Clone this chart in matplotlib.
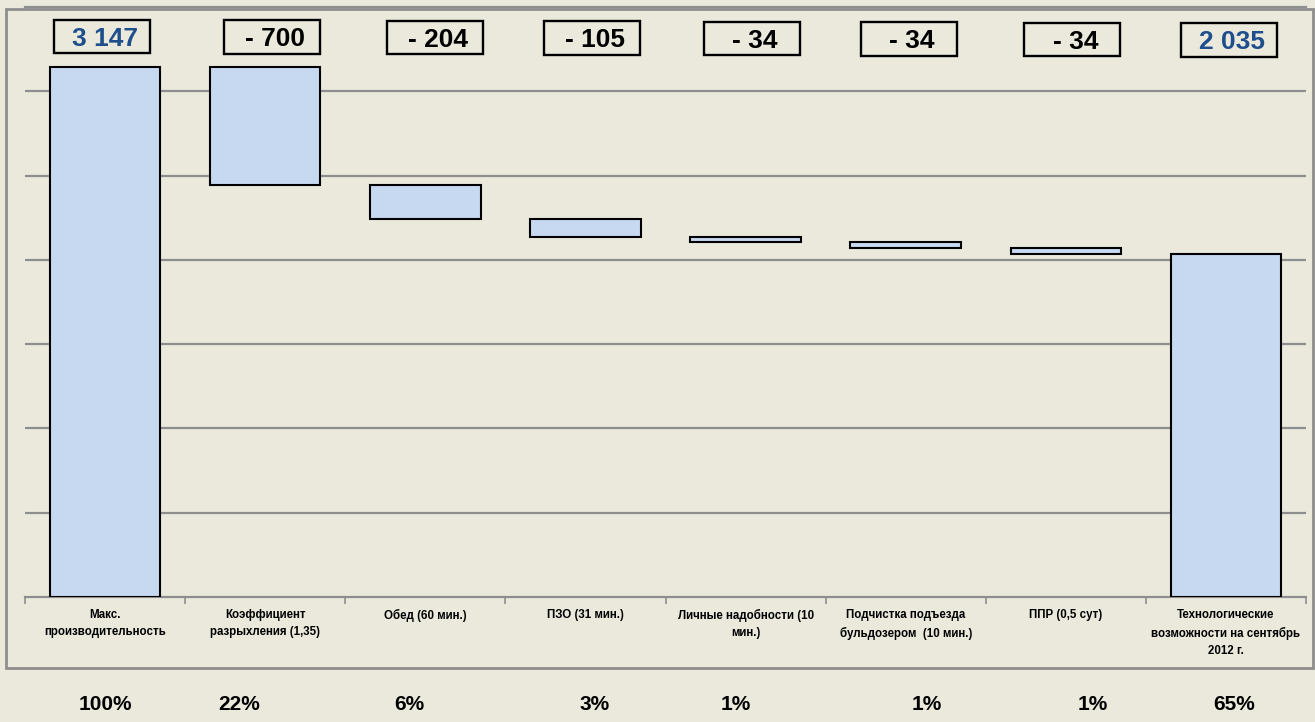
import matplotlib.pyplot as plt
from matplotlib.patches import Rectangle
import numpy as np

categories = ["Макс.\nпроизводительность", "Коэффициент\nразрыхления (1,35)", "Обед (60 мин.)",
              "ПЗО (31 мин.)", "Личные надобности (10\nмин.)", "Подчистка подъезда\nбульдозером  (10 мин.)",
              "ППР (0,5 сут)", "Технологические\nвозможности на сентябрь\n2012 г."]
values = [3147, -700, -204, -105, -34, -34, -34, 2035]
value_labels = ["3 147", "- 700", "- 204", "- 105", "- 34", "- 34", "- 34", "2 035"]
percents = ["100%", "22%", "6%", "3%", "1%", "1%", "1%", "65%"]
is_total = [True, False, False, False, False, False, False, True]

bg = "#EAE9DC"
bar_fill = "#C6D9F1"
grid_col = "#8E8E8E"
total_col = "#1F4E8C"
font = ["Liberation Sans", "DejaVu Sans"]

fig = plt.figure(figsize=(13.15, 7.22), dpi=100, facecolor=bg)
ax = fig.add_axes([25 / 1315, 125 / 722, 1281 / 1315, 590 / 722], facecolor=bg)

# waterfall: totals from zero, changes hang from running level
x = np.arange(len(values))
bottoms, heights = [], []
level = 0
for v, tot in zip(values, is_total):
    if tot:
        bottoms.append(0)
        heights.append(v)
        level = v
    else:
        bottoms.append(level + v)
        heights.append(-v)
        level += v

ax.bar(x, heights, bottom=bottoms, width=0.69, color=bar_fill, edgecolor="black", linewidth=1.5, zorder=3)

ax.set_xlim(-0.5, len(values) - 0.5)
ax.set_ylim(0, 3500)
ax.set_yticks(np.arange(500, 3501, 500))
ax.yaxis.grid(True, color=grid_col, linewidth=1.6, zorder=0)
ax.tick_params(axis="y", left=False, labelleft=False)
for s in ["left", "right"]:
    ax.spines[s].set_visible(False)
for s in ["top", "bottom"]:
    ax.spines[s].set_color(grid_col)
    ax.spines[s].set_linewidth(1.6)

ax.set_xticks(np.arange(-0.5, len(values)))
ax.set_xticklabels([])
ax.tick_params(axis="x", direction="out", length=5, color=grid_col, width=1.2)
for i, c in enumerate(categories):
    ax.text(i, -70, c, ha="center", va="top", fontsize=8.3, fontweight="bold",
            family=font, linespacing=1.6)

# value boxes above the bars (boxes sit a little off the bar centres)
box_shift = [-0.02, 0.04, 0.06, 0.04, 0.04, 0.02, 0.04, 0.02]
for i, (lab, tot) in enumerate(zip(value_labels, is_total)):
    cx = i + box_shift[i]
    y0 = 3225 - 3 * i
    ax.add_patch(Rectangle((cx - 0.3, y0), 0.6, 200, facecolor="none", edgecolor="black",
                           linewidth=1.7, zorder=5, clip_on=False))
    ax.text(cx + 0.02, y0 + 44, lab, ha="center", va="baseline", fontsize=19, fontweight="bold",
            color=total_col if tot else "black", family=font, zorder=6)

# percentage row under the chart
pct_x = [0.0, 0.84, 1.9, 3.06, 3.94, 5.13, 6.17, 7.05]
for px, p in zip(pct_x, percents):
    ax.text(px, -640, p, ha="center", va="center", fontsize=15, fontweight="bold", family=font)

# outer chart border
fig.patches.append(Rectangle((6 / 1315, 54 / 722), 1307 / 1315, 659 / 722, transform=fig.transFigure,
                             facecolor="none", edgecolor=grid_col, linewidth=2))

fig.savefig("out.png", dpi=100, facecolor=bg)
